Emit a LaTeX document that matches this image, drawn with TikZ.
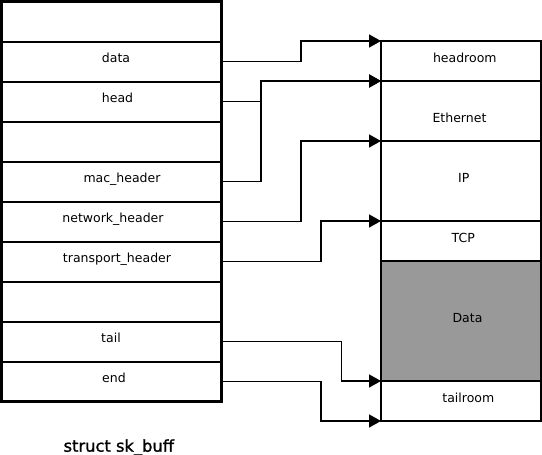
\documentclass[tikz,border=0pt]{standalone}
\usepackage{fontspec}
\setmainfont{DejaVu Sans}
\newfontfamily\titlefont[FakeBold=1.2]{DejaVu Sans}
\usetikzlibrary{arrows.meta}
\begin{document}
\begin{tikzpicture}[x=1pt,y=-1pt,
  lrow/.style={draw=black,line width=2pt,minimum width=220pt,minimum height=40pt,inner sep=0pt,outer sep=0pt},
  rrow/.style={draw=black,line width=2pt,minimum width=160pt,inner sep=0pt,outer sep=0pt},
  lbl/.style={anchor=base,inner sep=0pt,font=\fontsize{12.5}{15}\selectfont},
  conn/.style={draw=black,line width=1.6pt,-{Triangle[length=12pt,width=13pt]}},
  outer/.style={draw=black,line width=3pt}
]
\useasboundingbox (0,0) rectangle (542,455);
% left struct rows
\foreach \i in {1,...,10}{
  \node[lrow] (l\i) at (111.5,{21.5+40*(\i-1)}) {};
}
\draw[outer] (l1.north west) rectangle (l10.south east);
% left labels
\node[lbl] (tdata) at (116,62) {data};
\node[lbl] (thead) at (117.5,102) {head};
\node[lbl] (tmac) at (122,182) {mac\_header};
\node[lbl] (tnet) at (113,222) {network\_header};
\node[lbl] (ttrans) at (117,262) {transport\_header};
\node[lbl] (ttail) at (111,342) {tail};
\node[lbl] (tend) at (114,382) {end};
% right buffer rows
\node[rrow,minimum height=40pt] (headroom) at (461,61) {};
\node[rrow,minimum height=60pt] (ethernet) at (461,111) {};
\node[rrow,minimum height=80pt] (ip) at (461,181) {};
\node[rrow,minimum height=40pt] (tcp) at (461,241) {};
\node[rrow,minimum height=120pt,fill={rgb,255:red,153;green,153;blue,153}] (data) at (461,321) {};
\node[rrow,minimum height=40pt] (tailroom) at (461,401) {};
% right labels
\node[lbl] (theadroom) at (464.8,62.3) {headroom};
\node[lbl] (tether) at (459.5,122.3) {Ethernet};
\node[lbl] (tip) at (463.7,182.3) {IP};
\node[lbl] (ttcp) at (463.2,242.3) {TCP};
\node[lbl] (tdat) at (467.5,322.3) {Data};
\node[lbl] (ttailroom) at (468.3,402.3) {tailroom};
% connectors
\draw[conn] (l2.east) -- ++(79.5,0) |- (headroom.north west);
\draw[conn] (l3.east) -- ++(39.5,0) |- (ethernet.north west);
\draw[conn] (l5.east) -- ++(39.5,0) |- (ethernet.north west);
\draw[conn] (l6.east) -- ++(79.5,0) |- (ip.north west);
\draw[conn] (l7.east) -- ++(99.5,0) |- (tcp.north west);
\draw[conn] (l9.east) -- ++(120,0) |- (tailroom.north west);
\draw[conn] (l10.east) -- ++(99.5,0) |- (tailroom.south west);
% title
\node[anchor=base,inner sep=0pt,font=\titlefont\fontsize{16.3}{19}\selectfont] (title) at (118.8,451.7) {struct sk\_buff};
\end{tikzpicture}
\end{document}
